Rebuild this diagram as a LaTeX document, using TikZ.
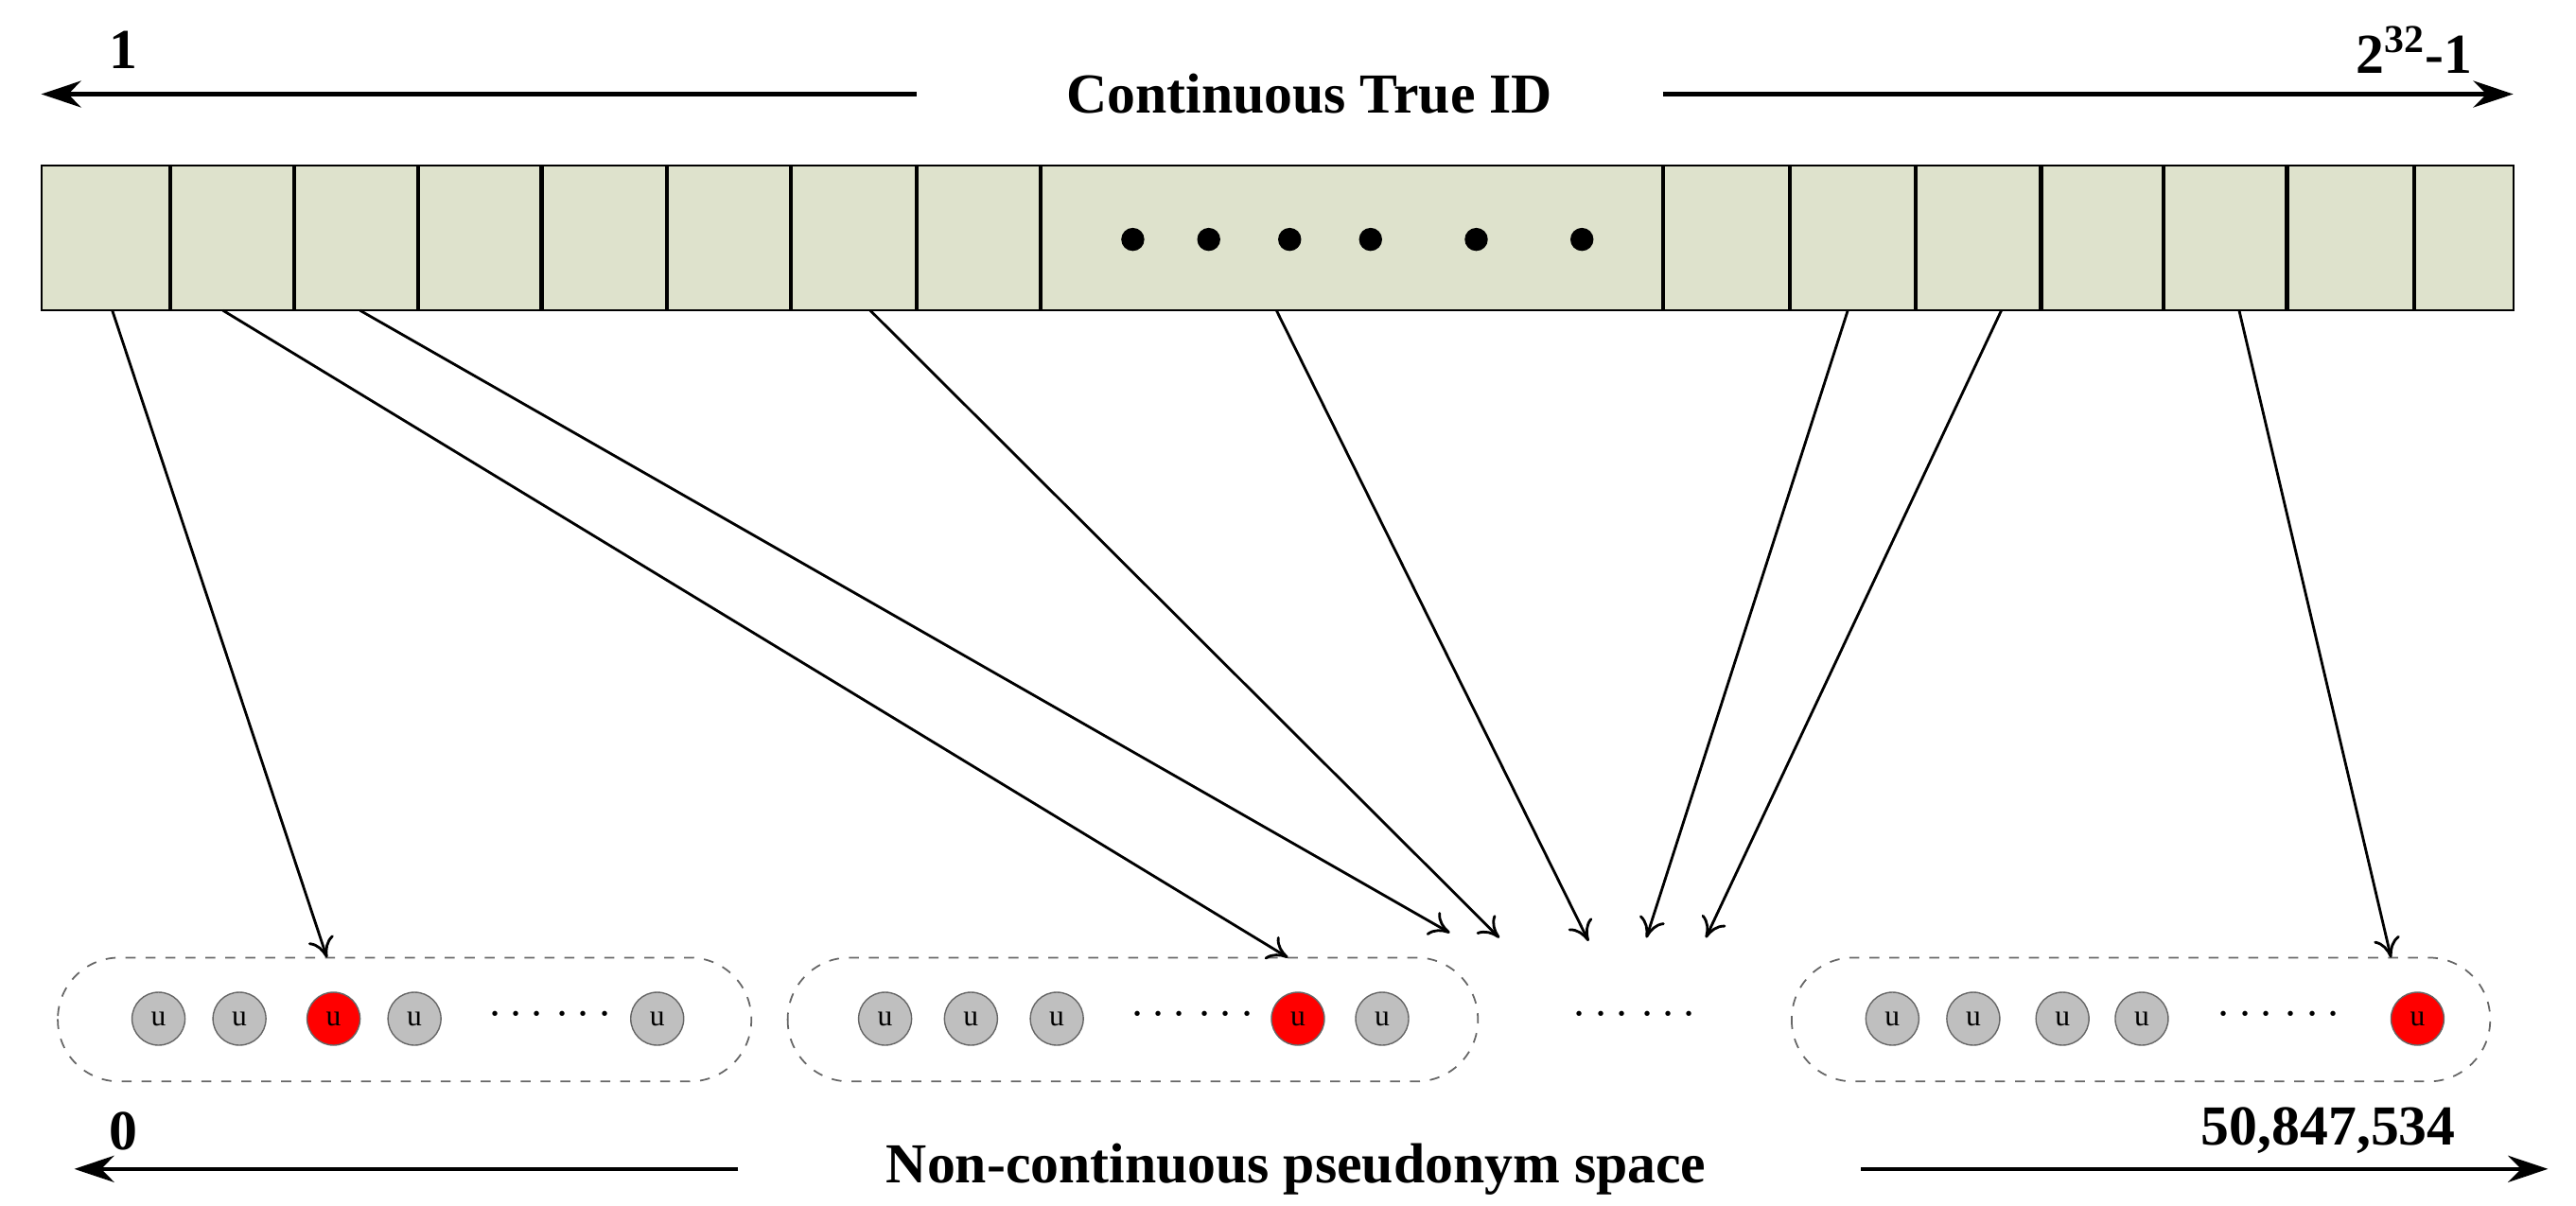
\documentclass[tikz,border=0pt]{standalone}
\usepackage{fontspec}
\setmainfont{Liberation Serif}
\usetikzlibrary{arrows.meta}
\definecolor{barfill}{RGB}{222,226,204}
\definecolor{ugray}{RGB}{191,191,191}
\begin{document}
\begin{tikzpicture}[x=0.017455cm,y=-0.017455cm,
  lbl/.style={font=\bfseries\fontsize{17}{20}\selectfont,inner sep=1pt},
  big/.style={-{Stealth[length=12pt,width=8pt]},line width=1.2pt},
  conn/.style={-{To[length=6pt,width=8pt]},line width=0.8pt},
  u/.style={circle,draw=black!60,line width=0.4pt,minimum size=32\pgflinewidth,inner sep=0pt,minimum size=0.56cm,font=\fontsize{9}{10}\selectfont},
  ug/.style={u,fill=ugray}, ur/.style={u,fill=red},
  grp/.style={draw=black!60,dashed,rounded corners=0.65cm,line width=0.5pt},
  dots/.style={font=\bfseries\fontsize{14}{16}\selectfont}]
\useasboundingbox (0,0) rectangle (1560,730);
% top
\node[lbl] (title) at (793,57) {Continuous True ID};
\node[lbl] (one) at (75,30) {1};
\node[lbl] (max) at (1462,30) {2\textsuperscript{32}-1};
\coordinate (tl1) at (555,57); \coordinate (tl2) at (25,57);
\coordinate (tr1) at (1007,57); \coordinate (tr2) at (1522,57);
\draw[big] (tl1) -- (tl2);
\draw[big] (tr1) -- (tr2);
% bar
\draw[fill=barfill,line width=0.6pt] (25,100) rectangle (1522,188);
\foreach \x in {103,178,253,328,404,479,555,630,1007,1084,1160,1236,1310,1385,1462}
  \draw[line width=1.2pt] (\x,100) -- (\x,188);
\foreach \x in {686,732,781,830,894,958}
  \fill (\x,145) circle (7);
% groups
\draw[grp] (35,580) rectangle (455,655);
\draw[grp] (477,580) rectangle (895,655);
\draw[grp] (1085,580) rectangle (1508,655);
\node[ug] (a1) at (96,617) {u};
\node[ug] (a2) at (145,617) {u};
\node[ur] (a3) at (202,617) {u};
\node[ug] (a4) at (251,617) {u};
\node[dots] (ad) at (333,615) {\textbf{$\cdots$ $\cdots$}};
\node[ug] (a5) at (398,617) {u};
\node[ug] (b1) at (536,617) {u};
\node[ug] (b2) at (588,617) {u};
\node[ug] (b3) at (640,617) {u};
\node[dots] (bd) at (722,615) {$\cdots$ $\cdots$};
\node[ur] (b4) at (786,617) {u};
\node[ug] (b5) at (837,617) {u};
\node[dots] (md) at (990,615) {$\cdots$ $\cdots$};
\node[ug] (c1) at (1146,617) {u};
\node[ug] (c2) at (1195,617) {u};
\node[ug] (c3) at (1249,617) {u};
\node[ug] (c4) at (1297,617) {u};
\node[dots] (cd) at (1380,615) {$\cdots$ $\cdots$};
\node[ur] (c5) at (1464,617) {u};
% connectors
\coordinate (s1) at (68,188); \coordinate (e1) at (198,580);
\coordinate (s2) at (135,188); \coordinate (e2) at (780,580);
\coordinate (s3) at (218,188); \coordinate (e3) at (878,565);
\coordinate (s4) at (527,188); \coordinate (e4) at (908,568);
\coordinate (s5) at (773,188); \coordinate (e5) at (962,570);
\coordinate (s6) at (1119,188); \coordinate (e6) at (997,568);
\coordinate (s7) at (1212,188); \coordinate (e7) at (1033,568);
\coordinate (s8) at (1356,188); \coordinate (e8) at (1448,580);
\foreach \i in {1,...,8} \draw[conn] (s\i) -- (e\i);
% bottom
\node[lbl] (bt) at (785,708) {Non-continuous pseudonym space};
\node[lbl] (zero) at (75,685) {0};
\node[lbl] (bmax) at (1410,685) {50,847,534};
\coordinate (bl1) at (447,708); \coordinate (bl2) at (45,708);
\coordinate (br1) at (1127,708); \coordinate (br2) at (1543,708);
\draw[big] (bl1) -- (bl2);
\draw[big] (br1) -- (br2);
\end{tikzpicture}
\end{document}
